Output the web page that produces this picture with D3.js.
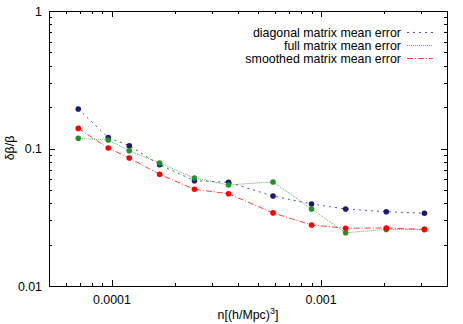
<!DOCTYPE html>
<html>
<head>
<meta charset="utf-8">
<script src="https://cdn.jsdelivr.net/npm/d3@7"></script>
<style>
  body { margin: 0; background: #fff; }
  svg { display: block; font-family: "Liberation Sans", Arial, sans-serif; }
</style>
</head>
<body>
<svg id="chart" width="463" height="324"></svg>
<script>
// densities n[(h/Mpc)^3]
const density = [6.9e-5, 9.6e-5, 1.21e-4, 1.69e-4, 2.48e-4, 3.61e-4, 5.89e-4, 9.0e-4, 1.31e-3, 2.05e-3, 3.12e-3];

const diagonalErr = [0.194, 0.120, 0.1047, 0.0762, 0.0583, 0.0568, 0.0451, 0.0395, 0.0363, 0.0347, 0.0338];
const fullErr     = [0.1186, 0.1153, 0.0964, 0.0784, 0.061, 0.0543, 0.0571, 0.0363, 0.0244, 0.0258, 0.0258];
const smoothedErr = [0.140, 0.1008, 0.0853, 0.0649, 0.0505, 0.0469, 0.034, 0.0278, 0.0263, 0.0264, 0.0258];

const seriesNames = ["diagonal matrix mean error", "full matrix mean error", "smoothed matrix mean error"];

const xTickLabels = ["0.0001", "0.001"];
const yTickLabels = ["0.01", "0.1", "1"];

const series = [
  { name: seriesNames[0], values: diagonalErr, color: "#1a1a70", dash: "2,4" },
  { name: seriesNames[1], values: fullErr, color: "#22912a", dash: "1,1" },
  { name: seriesNames[2], values: smoothedErr, color: "#ff0000", dash: "6,2,1,2" },
];

const svg = d3.select("#chart");
const plotLeft = 49, plotRight = 447, plotTop = 11, plotBottom = 286;

const x = d3.scaleLog().domain([5e-5, 4e-3]).range([plotLeft, plotRight]);
const y = d3.scaleLog().domain([0.01, 1]).range([plotBottom, plotTop]);

// frame
svg.append("rect")
  .attr("x", plotLeft + 0.5).attr("y", plotTop + 0.5)
  .attr("width", plotRight - plotLeft).attr("height", plotBottom - plotTop)
  .attr("fill", "none").attr("stroke", "#000").attr("stroke-width", 1);

// ticks (inward, mirrored)
const xMajor = xTickLabels.map(Number);
const xMinor = [];
for (let d = 1e-5; d < 1e-2; d *= 10) {
  for (let k = 2; k <= 9; k++) {
    const v = d * k;
    if (v > 5e-5 && v < 4e-3) xMinor.push(v);
  }
}
const yMajor = yTickLabels.map(Number);
const yMinor = [];
for (let d = 0.01; d < 1; d *= 10) {
  for (let k = 2; k <= 9; k++) yMinor.push(d * k);
}

const ticks = svg.append("g").attr("stroke", "#000").attr("stroke-width", 1);
function xTick(v, len) {
  const px = Math.round(x(v)) + 0.5;
  ticks.append("line").attr("x1", px).attr("x2", px).attr("y1", plotBottom).attr("y2", plotBottom - len);
  ticks.append("line").attr("x1", px).attr("x2", px).attr("y1", plotTop).attr("y2", plotTop + len);
}
function yTick(v, len) {
  const py = Math.round(y(v)) + 0.5;
  ticks.append("line").attr("y1", py).attr("y2", py).attr("x1", plotLeft).attr("x2", plotLeft + len);
  ticks.append("line").attr("y1", py).attr("y2", py).attr("x1", plotRight).attr("x2", plotRight - len);
}
xMajor.forEach(v => xTick(v, 6));
xMinor.forEach(v => xTick(v, 3));
yMajor.forEach(v => yTick(v, 6));
yMinor.forEach(v => yTick(v, 3));

// tick labels
svg.append("g").selectAll("text").data(xTickLabels).join("text")
  .attr("x", d => x(+d)).attr("y", 304)
  .attr("text-anchor", "middle").attr("font-size", 12.4).attr("fill", "#000")
  .text(d => d);

svg.append("g").selectAll("text").data(yTickLabels).join("text")
  .attr("x", 42).attr("y", d => y(+d) + 4.5)
  .attr("text-anchor", "end").attr("font-size", 12.4).attr("fill", "#000")
  .text(d => d);

// axis titles
const xl = svg.append("text")
  .attr("x", 248).attr("y", 319)
  .attr("text-anchor", "middle").attr("font-size", 12.4);
xl.append("tspan").text("n[(h/Mpc)");
xl.append("tspan").attr("font-size", 9).attr("dy", -5).text("3");
xl.append("tspan").attr("dy", 5).text("]");

svg.append("text")
  .attr("transform", "translate(14,148) rotate(-90)")
  .attr("text-anchor", "middle").attr("font-size", 12.4)
  .text("δβ/β");

// lines and points
const line = d3.line()
  .x(d => x(d[0]))
  .y(d => y(d[1]));

series.forEach(s => {
  const pts = density.map((n, i) => [n, s.values[i]]);
  svg.append("path")
    .datum(pts)
    .attr("fill", "none")
    .attr("stroke", s.color)
    .attr("stroke-width", 1)
    .attr("stroke-opacity", 0.75)
    .attr("stroke-dasharray", s.dash)
    .attr("d", line);
  svg.append("g").selectAll("circle").data(pts).join("circle")
    .attr("cx", d => x(d[0])).attr("cy", d => y(d[1]))
    .attr("r", 2.8)
    .attr("fill", s.color);
});

// legend
const legendY = [32, 45, 58];
series.forEach((s, i) => {
  svg.append("text")
    .attr("x", 401).attr("y", legendY[i] + 4.5)
    .attr("text-anchor", "end").attr("font-size", 12.4)
    .text(s.name);
  svg.append("line")
    .attr("x1", 407).attr("x2", 433)
    .attr("y1", legendY[i] + 0.5).attr("y2", legendY[i] + 0.5)
    .attr("stroke", s.color).attr("stroke-width", 1)
    .attr("stroke-opacity", 0.75)
    .attr("stroke-dasharray", s.dash);
});
</script>
</body>
</html>
